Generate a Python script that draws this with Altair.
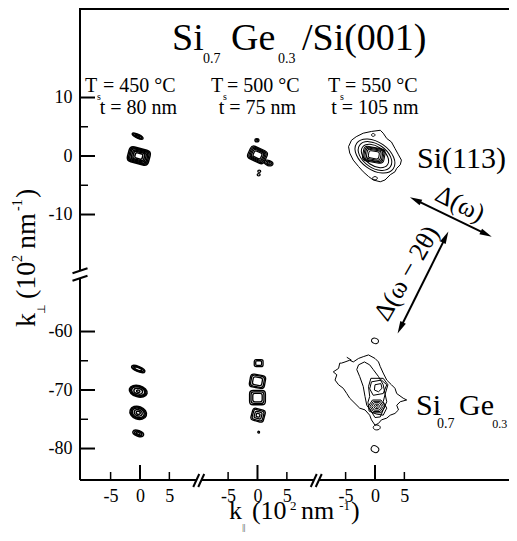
import math
import altair as alt
import pandas as pd

FONT = "Liberation Serif"

# ---------------- values ----------------
PANEL_TS = ["450", "500", "550"]          # substrate temperature (°C)
PANEL_THICK = ["80", "75", "105"]         # layer thickness (nm)

Y_MAJOR = [10, 0, -10, -60, -70, -80]     # k_perp ticks (1e2 nm^-1)
Y_MINOR = [5, -5, -65, -75]
X_MAJOR = [0]                             # k_par ticks per panel
X_MINOR = [-5, 5]
X_LABELS = [-5, 0, 5]

# peaks drawn as nested contour rings:
# (panel, k_par, k_perp, outline, aspect, tilt deg, ring widths in 1e2 nm^-1)
PEAKS = [
    (0, -0.4, 3.4, "ell", 0.30, 25, [2.0, 1.5, 0.9]),
    (0, -0.2, 0.0, "rr", 0.70, 15, [3.7, 3.3, 2.9, 2.4, 1.9, 1.3]),
    (0, -0.3, -66.4, "ell", 0.35, 22, [2.4, 1.9, 1.3]),
    (0, -0.3, -70.2, "ell", 0.62, 15, [3.1, 2.7, 2.3, 1.5, 0.6]),
    (0, -0.3, -73.9, "ell", 0.75, 20, [2.9, 2.5, 2.1, 1.4, 0.7]),
    (0, -0.3, -77.4, "ell", 0.50, 20, [1.9, 1.3, 0.7]),
    (1, -0.1, 2.7, "ell", 0.80, 0, [0.7, 0.35]),
    (1, 0.0, 0.2, "rr", 0.75, 25, [3.1, 2.7, 2.3, 1.9, 1.4]),
    (1, 1.9, -1.2, "ell", 0.60, 20, [1.5, 1.0, 0.5]),
    (1, 0.3, -2.6, "ell", 0.80, 0, [0.5]),
    (1, 0.2, -3.2, "ell", 0.80, 0, [0.5]),
    (1, 0.2, -65.4, "rr", 0.80, 0, [1.5, 1.0]),
    (1, 0.0, -68.5, "rr", 0.85, 10, [2.6, 2.2, 1.6]),
    (1, 0.0, -71.3, "rr", 0.90, 0, [2.7, 2.2, 1.6]),
    (1, 0.1, -74.3, "rr", 0.95, 15, [2.2, 1.8, 1.2, 0.6]),
    (1, 0.2, -77.2, "ell", 1.00, 0, [0.3]),
    (2, 0.0, 0.0, "ell", 0.62, 35, [7.6, 6.4, 5.2]),
    (2, -0.2, 0.2, "rr", 0.68, 10, [3.7, 3.3, 2.9, 2.4, 1.8]),
    (2, -0.3, 3.6, "ell", 0.80, 0, [0.6]),
    (2, 0.0, -3.8, "ell", 0.70, 0, [0.8]),
    (2, 0.0, -61.6, "ell", 0.75, 20, [1.2]),
    (2, 0.3, -72.8, "hex", 0.75, 0, [2.9, 2.3, 1.7, 1.0, 0.4]),
    (2, 0.3, -76.4, "ell", 0.70, 0, [1.2]),
    (2, 0.0, -80.1, "ell", 0.80, 30, [1.35]),
]

# irregular contour lines of the 550 °C panel (k_par, k_perp)
SI113_OUTER = [(-4.0, 2.7), (-3.2, 3.3), (-2.0, 3.9), (-0.6, 4.2), (0.9, 4.4), (1.4, 3.9),
               (2.0, 3.0), (2.8, 2.4), (3.4, 1.3), (4.0, 0.2), (4.5, -0.7), (4.3, -1.5),
               (3.7, -2.1), (3.4, -2.7), (2.6, -3.2), (1.7, -4.1), (0.9, -4.4), (-0.3, -4.1),
               (-1.1, -3.5), (-2.0, -2.7), (-2.8, -1.8), (-3.7, -0.7), (-4.3, 0.5), (-4.5, 1.6)]
SIGE_OUTER = [(-5.7, -65.4), (-5.1, -65.2), (-4.3, -64.9), (-3.7, -65.2), (-2.8, -64.6),
              (-2.0, -64.3), (-1.1, -64.0), (0.0, -64.6), (0.6, -65.2), (0.9, -66.0),
              (1.4, -67.1), (2.0, -68.3), (2.8, -69.1), (3.4, -69.7), (3.7, -70.6),
              (4.8, -71.4), (5.4, -71.7), (4.3, -72.0), (3.7, -72.6), (4.0, -73.4),
              (3.4, -74.0), (2.6, -74.3), (2.0, -74.8), (1.1, -75.1), (0.6, -75.7),
              (0.0, -76.0), (-0.6, -75.1), (-0.9, -74.3), (-1.7, -73.4), (-2.6, -73.1),
              (-3.4, -72.3), (-4.3, -71.4), (-4.8, -70.6), (-5.4, -69.7), (-6.2, -69.1),
              (-6.8, -68.3), (-6.5, -67.4), (-7.1, -66.9), (-6.2, -66.3), (-6.0, -65.4)]
SIGE_MID = [(-2.8, -65.7), (-1.8, -65.2), (-0.9, -65.7), (-0.3, -66.5), (0.6, -67.7),
            (1.4, -69.1), (1.7, -70.6), (2.0, -72.0), (1.4, -73.4), (0.9, -74.6),
            (0.0, -74.7), (-0.6, -73.7), (-1.4, -72.6), (-1.7, -71.1), (-2.0, -69.4),
            (-2.6, -67.7), (-3.1, -66.5)]
SIGE_PAIR = [(-0.7, -68.0), (1.4, -68.0), (2.2, -69.1), (1.7, -70.8), (1.4, -72.0),
             (2.0, -73.1), (1.4, -74.3), (0.2, -74.1), (-1.0, -73.6), (-1.2, -72.1),
             (-0.9, -71.1), (-1.1, -69.4)]
SIGE_TOP = [(-0.6, -68.6), (1.1, -68.3), (2.0, -69.1), (1.4, -70.6), (-0.3, -70.9), (-0.9, -69.8)]
SIGE_TOP_IN = [(0.0, -69.1), (1.0, -68.9), (1.2, -69.7), (0.6, -70.3), (-0.1, -70.0)]
SIGE_DASH = [(-4.8, -64.4), (-4.0, -64.9)]
CONTOURS = [("a", SI113_OUTER, True), ("b", SIGE_OUTER, True), ("c", SIGE_MID, True),
            ("d", SIGE_PAIR, True), ("e", SIGE_TOP, True), ("f", SIGE_TOP_IN, True),
            ("g", SIGE_DASH, False)]
CONTOUR_PANEL = 2

# ---------------- layout ----------------
W, H = 429, 471
X_DOM = [-10.21, 62.81]
Y_DOM = [-55.38, 25.13]
PANEL_STEP = 20          # k_par offset between the three panels
Y_SHIFT = 30             # k_perp range removed by the axis break
PX_X = W / (X_DOM[1] - X_DOM[0])
PX_Y = H / (Y_DOM[1] - Y_DOM[0])
SW = [1.5, 1.3, 1.0]


def dx(panel, kx):
    return kx + PANEL_STEP * panel


def dy(ky):
    return ky + Y_SHIFT if ky < -35 else ky


def ell_path(a):
    k = 0.5523
    ka = k * a
    return (f"M 1 0 C 1 {ka:.3f} {k} {a:.3f} 0 {a:.3f} C {-k} {a:.3f} -1 {ka:.3f} -1 0 "
            f"C -1 {-ka:.3f} {-k} {-a:.3f} 0 {-a:.3f} C {k} {-a:.3f} 1 {-ka:.3f} 1 0 Z")


def rr_path(a):
    r = min(0.45, 0.6 * a)
    return (f"M {-1 + r:.3f} {-a:.3f} L {1 - r:.3f} {-a:.3f} Q 1 {-a:.3f} 1 {-a + r:.3f} "
            f"L 1 {a - r:.3f} Q 1 {a:.3f} {1 - r:.3f} {a:.3f} L {-1 + r:.3f} {a:.3f} "
            f"Q -1 {a:.3f} -1 {a - r:.3f} L -1 {-a + r:.3f} Q -1 {-a:.3f} {-1 + r:.3f} {-a:.3f} Z")


def hex_path(a):
    return f"M -1 0 L -0.5 {-a:.3f} L 0.5 {-a:.3f} L 1 0 L 0.5 {a:.3f} L -0.5 {a:.3f} Z"


PATHS = {"ell": ell_path, "rr": rr_path, "hex": hex_path}
ARROW_HEAD = "M 0 -1 L 0.5 1 L -0.5 1 Z"

ring_rows = []
for panel, kx, ky, kind, asp, tilt, widths in PEAKS:
    for w in widths:
        ring_rows.append({"xd": dx(panel, kx), "yd": dy(ky), "shp": PATHS[kind](asp),
                          "sz": (w * PX_X) ** 2, "ang": tilt, "sw": SW[panel]})
rings = pd.DataFrame(ring_rows)

line_rows = []
for cid, pts, closed in CONTOURS:
    seq = pts + ([pts[0]] if closed else [])
    for i, (kx, ky) in enumerate(seq):
        line_rows.append({"cid": cid, "i": i, "xd": dx(CONTOUR_PANEL, kx), "yd": dy(ky)})
lines = pd.DataFrame(line_rows)

# ---------------- encodings ----------------
x_label_vals = [dx(p, k) for p in range(3) for k in X_LABELS]
y_label_vals = [dy(v) for v in Y_MAJOR]
xenc = alt.X("xd:Q", scale=alt.Scale(domain=X_DOM, nice=False, zero=False),
             axis=alt.Axis(values=x_label_vals, labelExpr="'' + (datum.value - 20 * round(datum.value / 20))",
                           ticks=False, tickSize=0, domain=False, grid=False, labelFont=FONT,
                           labelFontSize=18, labelColor="black", labelPadding=7,
                           labelOverlap=False, labelFlush=False, title=None))
yenc = alt.Y("yd:Q", scale=alt.Scale(domain=Y_DOM, nice=False, zero=False),
             axis=alt.Axis(values=y_label_vals, labelExpr="'' + (datum.value < -20 ? datum.value - 30 : datum.value)",
                           ticks=False, tickSize=0, domain=False, grid=False, labelFont=FONT,
                           labelFontSize=18, labelColor="black", labelPadding=8,
                           labelOverlap=False, labelFlush=False, title=None))

layers = []

# contour rings
layers.append(alt.Chart(rings).mark_point(filled=False, color="black", opacity=1).encode(
    x=xenc, y=yenc, shape=alt.Shape("shp:N", scale=None), size=alt.Size("sz:Q", scale=None),
    angle=alt.Angle("ang:Q", scale=None), strokeWidth=alt.StrokeWidth("sw:Q", scale=None)))
# irregular contour lines
layers.append(alt.Chart(lines).mark_line(color="black", strokeWidth=1).encode(
    x=xenc, y=yenc, detail="cid:N", order="i:Q"))

# frame: top border, left and bottom axis lines with breaks
y_break = -20.3
x_breaks = [PANEL_STEP * (i + 0.5) for i in range(2)]
top = pd.DataFrame({"xd": [X_DOM[0]], "xd2": [X_DOM[1]]})
layers.append(alt.Chart(top).mark_rule(color="black", strokeWidth=2, strokeCap="square").encode(
    x=xenc, x2="xd2:Q", y=alt.value(0)))
left = pd.DataFrame({"yd": [Y_DOM[1], y_break - 3.5 / PX_Y], "yd2": [y_break + 4 / PX_Y, Y_DOM[0]]})
layers.append(alt.Chart(left).mark_rule(color="black", strokeWidth=2).encode(
    y=yenc, y2="yd2:Q", x=alt.value(0)))
bx0 = [X_DOM[0]] + [b + 2.7 / PX_X for b in x_breaks]
bx1 = [b - 2.3 / PX_X for b in x_breaks] + [X_DOM[1]]
bottom = pd.DataFrame({"xd": bx0, "xd2": bx1})
layers.append(alt.Chart(bottom).mark_rule(color="black", strokeWidth=2).encode(
    x=xenc, x2="xd2:Q", y=alt.value(H)))
xb = pd.DataFrame({"xd": x_breaks})
for o1, o2 in [(-5.5, 0.5), (-0.5, 5.5)]:
    layers.append(alt.Chart(xb).mark_rule(color="black", strokeWidth=2, xOffset=o1, x2Offset=o2).encode(
        x=xenc, x2="xd:Q", y=alt.value(H + 7), y2=alt.value(H - 6)))
yb = pd.DataFrame({"yd": [y_break]})
for o1, o2 in [(-1.5, -6.5), (6.0, 1.0)]:
    layers.append(alt.Chart(yb).mark_rule(color="black", strokeWidth=2, yOffset=o1, y2Offset=o2).encode(
        y=yenc, y2="yd:Q", x=alt.value(-7.5), x2=alt.value(7.5)))

# inward ticks
ymaj = pd.DataFrame({"yd": [dy(v) for v in Y_MAJOR]})
ymin = pd.DataFrame({"yd": [dy(v) for v in Y_MINOR]})
xmaj = pd.DataFrame({"xd": [dx(p, k) for p in range(3) for k in X_MAJOR]})
xmin = pd.DataFrame({"xd": [dx(p, k) for p in range(3) for k in X_MINOR]})
layers.append(alt.Chart(ymaj).mark_rule(color="black", strokeWidth=2).encode(y=yenc, x=alt.value(0), x2=alt.value(15)))
layers.append(alt.Chart(ymin).mark_rule(color="black", strokeWidth=1.5).encode(y=yenc, x=alt.value(0), x2=alt.value(8)))
layers.append(alt.Chart(xmaj).mark_rule(color="black", strokeWidth=2).encode(x=xenc, y=alt.value(H), y2=alt.value(H - 15)))
layers.append(alt.Chart(xmin).mark_rule(color="black", strokeWidth=1.5).encode(x=xenc, y=alt.value(H), y2=alt.value(H - 8)))

# arrows Δ(ω) and Δ(ω − 2θ): tips in display coordinates
ARROWS = [((45.96, -7.06), (59.86, -13.79)), ((52.48, -12.94), (43.86, -30.31))]
arr_lines, heads = [], []
for (ax_, ay_), (bx_, by_) in ARROWS:
    vx, vy = (bx_ - ax_) * PX_X, -(by_ - ay_) * PX_Y
    L = math.hypot(vx, vy)
    ux, uy = vx / L, vy / L
    ang = math.degrees(math.atan2(ux, -uy)) % 360
    ca = (ax_ + 6 * ux / PX_X, ay_ - 6 * uy / PX_Y)
    cb = (bx_ - 6 * ux / PX_X, by_ + 6 * uy / PX_Y)
    arr_lines.append({"xd": ca[0], "yd": ca[1], "xd2": cb[0], "yd2": cb[1]})
    heads.append({"xd": cb[0], "yd": cb[1], "ang": ang})
    heads.append({"xd": ca[0], "yd": ca[1], "ang": (ang + 180) % 360})
layers.append(alt.Chart(pd.DataFrame(arr_lines)).mark_rule(color="black", strokeWidth=2).encode(
    x=xenc, y=yenc, x2="xd2:Q", y2="yd2:Q"))
layers.append(alt.Chart(pd.DataFrame(heads)).mark_point(shape=ARROW_HEAD, filled=True, color="black",
                                                         opacity=1, size=150).encode(
    x=xenc, y=yenc, angle=alt.Angle("ang:Q", scale=None)))

# ---------------- texts (display coordinates) ----------------
TEXT_L = [
    ("Si", 5.45, 18.12, 38, 0), ("0.7", 10.72, 15.90, 14, 0), ("Ge", 15.49, 18.12, 38, 0),
    ("0.3", 23.49, 15.90, 14, 0), ("/Si(001)", 27.57, 18.12, 38, 0),
    ("T", -9.36, 10.94, 20, 0), ("s", -7.32, 9.55, 10, 0), (f"= {PANEL_TS[0]} °C", -6.30, 10.94, 20, 0),
    ("T", 12.09, 10.94, 20, 0), ("s", 14.13, 9.55, 10, 0), (f"= {PANEL_TS[1]} °C", 14.81, 10.94, 20, 0),
    ("T", 32.00, 10.94, 20, 0), ("s", 34.04, 9.55, 10, 0), (f"= {PANEL_TS[2]} °C", 34.89, 10.94, 20, 0),
    ("Si(113)", 47.15, -2.05, 30, 0),
    ("Si", 46.98, -44.27, 30, 0), ("0.7", 50.55, -46.50, 14, 0), ("Ge", 54.30, -44.27, 30, 0),
    ("0.3", 59.95, -46.50, 12, 0),
    ("k", 15.15, -62.05, 26, 0), ("||", 17.4, -63.93, 8, 0), ("(10", 19.06, -62.05, 26, 0),
    ("2", 25.55, -60.50, 13, 0), ("nm", 27.40, -62.05, 26, 0), ("-1", 33.90, -60.50, 13, 0),
    (")", 35.90, -62.05, 26, 0),
    ("k", -17.87, -29.23, 28, 270), ("⊥", -16.17, -27.01, 11, 270), ("(10", -17.87, -24.44, 28, 270),
    ("2", -20.09, -18.12, 14, 270), ("nm", -17.87, -15.90, 28, 270), ("-1", -20.09, -9.40, 14, 270),
    (")", -17.87, -7.18, 28, 270),
]
TEXT_C = [(f"t = {PANEL_THICK[p]} nm", x, 7.18, 20, 0) for p, x in enumerate([-0.26, 20.0, 40.0])]
TEXT_M = [("Δ(ω)", 54.47, -8.21, 26, 27), ("Δ(ω − 2θ)", 45.40, -20.05, 26, 300)]


def text_layer(rows, align, baseline):
    df = pd.DataFrame(rows, columns=["t", "xd", "yd", "fs", "ang"])
    return alt.Chart(df).mark_text(align=align, baseline=baseline, font=FONT, color="black").encode(
        x=xenc, y=yenc, text="t:N", size=alt.Size("fs:Q", scale=None),
        angle=alt.Angle("ang:Q", scale=None))


layers.append(text_layer(TEXT_L, "left", "alphabetic"))
layers.append(text_layer(TEXT_C, "center", "alphabetic"))
layers.append(text_layer(TEXT_M, "center", "middle"))

chart = alt.layer(*layers).properties(
    width=W, height=H,
    autosize=alt.AutoSizeParams(type="none"),
    padding={"left": 72, "top": 1, "right": 0, "bottom": 52},
).configure_view(stroke=None)

chart.save("out.html", embed_options={"renderer": "svg", "actions": False})
